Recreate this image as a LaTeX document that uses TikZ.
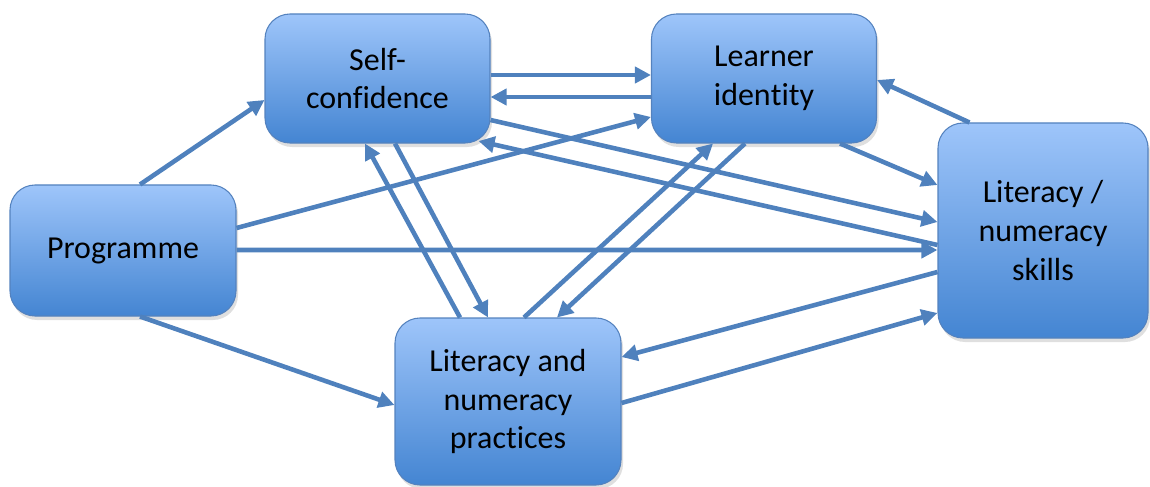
\documentclass[tikz,border=0pt]{standalone}
\usepackage{fontspec}
\setmainfont{Carlito}[Ligatures = NoCommon, Contextuals = NoAlternate]
\usepackage{tikz}
\usetikzlibrary{arrows.meta,shadows}
\definecolor{arrowblue}{RGB}{79,129,189}
\definecolor{boxtop}{RGB}{158,197,250}
\definecolor{boxbottom}{RGB}{68,133,210}
\definecolor{boxline}{RGB}{84,130,190}

\begin{document}
\begin{tikzpicture}[font = \fontsize{18.2}{22}\selectfont,
        box/.style = {draw = boxline, line width = 0.6pt, rounded corners = 0.5cm,
            top color = boxtop, bottom color = boxbottom, align = center, inner sep = 0pt,
            minimum width = 4.5cm, minimum height = 2.58cm,
            drop shadow = {opacity = 0.25, shadow xshift = 0.04cm, shadow yshift = -0.08cm}},
        link/.style = {draw = arrowblue, line width = 2.6pt,
            -{Triangle[length = 0.32cm, width = 0.32cm]}}]
        \useasboundingbox (0,0) rectangle (23,9.72);
        
        \node[box, minimum width = 4.52cm, minimum height = 2.62cm] (prog) at (2.46,4.71) {Programme};
        \node[box] (self) at (7.55,8.15) {Self-\\confidence};
        \node[box] (learn) at (15.28,8.15) {Learner\\iden\kern0pt tity};
        \node[box, minimum width = 4.2cm, minimum height = 4.3cm] (skills) at (20.86,5.11) {Literacy /\\numeracy\\skills};
        \node[box, minimum width = 4.52cm, minimum height = 3.34cm] (pract) at (10.16,1.69) {Literacy and\\numeracy\\practices};
        
        \draw[link] ([xshift = 0.34cm]prog.north) -- ([yshift = -0.43cm]self.west);
        \draw[link] ([yshift = 0.45cm]prog.east) -- ([yshift = -0.77cm]learn.west);
        \draw[link] ([yshift = 0.01cm]prog.east) -- ([yshift = -0.39cm]skills.west);
        \draw[link] ([xshift = 0.34cm]prog.south) -- ([yshift = -0.07cm]pract.west);
        
        \draw[link] ([yshift = 0.07cm]self.east) -- ([yshift = 0.07cm]learn.west);
        \draw[link] ([yshift = -0.37cm]learn.west) -- ([yshift = -0.37cm]self.east);
        
        \draw[link] ([yshift = -0.83cm]self.east) -- ([yshift = 0.17cm]skills.west);
        \draw[link] ([yshift = -0.29cm]skills.west) -- ([xshift = -0.24cm, yshift = 0.05cm]self.south east);
        
        \draw[link] ([xshift = 0.64cm]skills.north west) -- ([yshift = -0.03cm]learn.east);
        \draw[link] ([xshift = -0.74cm]learn.south east) -- ([yshift = 0.91cm]skills.west);
        
        \draw[link] ([xshift = 0.35cm]self.south) -- ([xshift = -0.4cm]pract.north);
        \draw[link] ([xshift = -0.96cm]pract.north) -- ([xshift = -0.25cm]self.south);
        
        \draw[link] ([xshift = 0.32cm]pract.north) -- ([xshift = -1.02cm]learn.south);
        \draw[link] ([xshift = -0.38cm]learn.south) -- ([xshift = 0.98cm]pract.north);
        
        \draw[link] ([yshift = -0.83cm]skills.west) -- ([yshift = 0.89cm]pract.east);
        \draw[link] ([yshift = -0.03cm]pract.east) -- ([yshift = -1.65cm]skills.west);
    \end{tikzpicture}
\end{document}
